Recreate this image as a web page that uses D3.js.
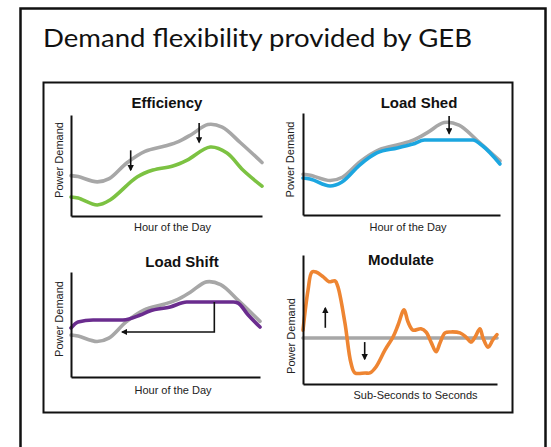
<!DOCTYPE html>
<html>
<head>
<meta charset="utf-8">
<script src="https://cdn.jsdelivr.net/npm/d3@7"></script>
<style>
  body { margin: 0; background: #fff; }
  svg { display: block; }
</style>
</head>
<body>
<svg id="chart"></svg>
<script>
(function() {

    // Data
    const chartTitle = 'Demand flexibility provided by GEB';

    // baseline load profile (gray), hour of day vs. relative power demand
    const baseHours = [0, 0.9, 3.3, 4.8, 7, 9.3, 11.8, 13.5, 15.2, 17.2, 19, 21.3, 24];
    const baseValues = [40, 39, 33.8, 37, 52.5, 64, 69.3, 73.7, 81, 90.6, 88, 72.5, 53];

    // Efficiency (green)
    const effHours = [0, 0.9, 3.3, 4.9, 8.3, 10.3, 12.8, 14.6, 17.5, 19.6, 21.6, 24];
    const effValues = [18.8, 17.8, 10.9, 15.8, 38.6, 45.5, 49.5, 55.4, 68.3, 62.4, 45.5, 29.5];
    const effArrows = [[7.5, 65, 45.5], [16.1, 92, 73]]; // hour, from, to

    // Load Shed (blue)
    const shedHours = [0, 0.85, 3.3, 4.75, 6.9, 9.0, 11.5, 13.4, 14.8, 17.1, 20.7, 21.9, 24];
    const shedValues = [36.3, 35.3, 28.4, 32.4, 49, 60.8, 65.7, 69.6, 73.5, 73.5, 73.5, 67.6, 50];
    const shedArrows = [[17.8, 97, 80]];

    // Load Shift (purple)
    const shiftHours = [0, 0.9, 2.8, 6.6, 8.8, 10.0, 12.6, 14.7, 18.0, 20.6, 21.2, 22.5, 24];
    const shiftValues = [46.7, 52.4, 54.3, 54.3, 59, 62.9, 66.7, 71.4, 71.4, 71.4, 70.5, 59, 47.6];
    const shiftArrowHours = [18.2, 18.2, 6.5];
    const shiftArrowValues = [71.4, 42.9, 42.9];

    // Modulate (orange), sub-seconds to seconds vs. deviation from baseline
    const modTime = [0, 0.26, 0.46, 0.67, 1.03, 1.34, 1.65, 1.8, 2.16, 2.47, 2.68, 3.2, 3.45, 3.76,
        4.23, 4.64, 4.9, 5.21, 5.41, 5.67, 6.08, 6.34, 6.6, 6.86, 7.06, 7.32, 7.63, 8.09, 8.4,
        8.66, 8.87, 9.12, 9.28, 9.54, 9.79, 10];
    const modValues = [0.17, 1.04, 1.43, 1.43, 1.33, 1.22, 1.24, 1.11, 0.33, -0.54, -0.76, -0.76,
        -0.76, -0.63, -0.26, 0.02, 0.28, 0.61, 0.35, 0.17, 0.2, 0.13, -0.09, -0.3, -0.11, 0.11,
        0.13, 0.11, 0.02, -0.09, 0.02, 0.2, 0, -0.2, -0.04, 0.07];
    const modBaseline = 0;
    const modArrows = [[1.15, 0.22, 0.65], [3.18, -0.09, -0.46]];

    const w = 551;
    const h = 447;

    const svg = d3.select('#chart')
        .attr('width', w)
        .attr('height', h);

    // arrowhead
    svg.append('defs').append('marker')
        .attr('id', 'head')
        .attr('viewBox', '0 0 10 10')
        .attr('refX', 8)
        .attr('refY', 5)
        .attr('markerWidth', 4)
        .attr('markerHeight', 4)
        .attr('markerUnits', 'strokeWidth')
        .attr('orient', 'auto')
        .append('path')
        .attr('d', 'M0,0 L10,5 L0,10 z')
        .attr('fill', '#111');

    // Frames
    svg.append('rect')
        .attr('x', 20.5).attr('y', 8.5)
        .attr('width', 525).attr('height', 470)
        .attr('fill', 'none')
        .attr('stroke', '#111')
        .attr('stroke-width', 2.5);

    svg.append('text')
        .attr('x', 43)
        .attr('y', 47)
        .attr('textLength', 429)
        .attr('lengthAdjust', 'spacingAndGlyphs')
        .style('font-family', 'Lato, "Open Sans", sans-serif')
        .style('font-size', '25px')
        .attr('fill', '#111')
        .text(chartTitle);

    svg.append('rect')
        .attr('x', 43.5).attr('y', 82.5)
        .attr('width', 469).attr('height', 330)
        .attr('fill', 'none')
        .attr('stroke', '#111')
        .attr('stroke-width', 2);

    const panels = [
        {
            title: 'Efficiency', xLabel: 'Hour of the Day',
            box: { l: 71, r: 262, t: 115, b: 216 },
            titleX: 167, titleY: 108, xLabelX: 172.5, xLabelY: 231, yLabelX: 63, yLabelY: 160,
            xDomain: [0, 24], yDomain: [0, 100],
            lines: [
                { xs: baseHours, ys: baseValues, color: '#a7a7a7' },
                { xs: effHours, ys: effValues, color: '#7cc242' }
            ],
            arrows: effArrows
        },
        {
            title: 'Load Shed', xLabel: 'Hour of the Day',
            box: { l: 303, r: 500, t: 113, b: 215 },
            titleX: 419, titleY: 108, xLabelX: 408, xLabelY: 231, yLabelX: 294, yLabelY: 159.5,
            xDomain: [0, 24], yDomain: [0, 100],
            lines: [
                { xs: baseHours, ys: baseValues, color: '#a7a7a7' },
                { xs: shedHours, ys: shedValues, color: '#1ca6e0', curve: d3.curveMonotoneX }
            ],
            arrows: shedArrows
        },
        {
            title: 'Load Shift', xLabel: 'Hour of the Day',
            box: { l: 71, r: 260, t: 272, b: 377 },
            titleX: 182, titleY: 267, xLabelX: 173, xLabelY: 394, yLabelX: 63, yLabelY: 319,
            xDomain: [0, 24], yDomain: [0, 100],
            lines: [
                { xs: baseHours, ys: baseValues, color: '#a7a7a7' },
                { xs: shiftHours, ys: shiftValues, color: '#6a2c8e', curve: d3.curveMonotoneX }
            ],
            arrows: [],
            elbow: { xs: shiftArrowHours, ys: shiftArrowValues }
        },
        {
            title: 'Modulate', xLabel: 'Sub-Seconds to Seconds',
            box: { l: 303, r: 497, t: 255, b: 384 },
            titleX: 401, titleY: 265, xLabelX: 415.5, xLabelY: 399, yLabelX: 295, yLabelY: 336,
            xDomain: [0, 10], yDomain: [-1, 1.8],
            lines: [
                { xs: [0, 10], ys: [modBaseline, modBaseline], color: '#a7a7a7', curve: d3.curveLinear },
                { xs: modTime, ys: modValues, color: '#ee8532' }
            ],
            arrows: modArrows
        }
    ];

    panels.forEach(p => {

        const scaleX = d3.scaleLinear().domain(p.xDomain).range([p.box.l, p.box.r]);
        const scaleY = d3.scaleLinear().domain(p.yDomain).range([p.box.b, p.box.t]);
        const g = svg.append('g');

        // Lines
        p.lines.forEach(ln => {
            const line = d3.line()
                .x(d => scaleX(d[0]))
                .y(d => scaleY(d[1]))
                .curve(ln.curve || d3.curveCatmullRom.alpha(0.5));
            g.append('path')
                .datum(d3.zip(ln.xs, ln.ys))
                .attr('d', line)
                .attr('fill', 'none')
                .attr('stroke', ln.color)
                .attr('stroke-width', 3.6)
                .attr('stroke-linejoin', 'round')
                .attr('stroke-linecap', 'round');
        });

        // Arrows
        g.selectAll('line.arrow')
            .data(p.arrows)
            .enter()
            .append('line')
            .attr('class', 'arrow')
            .attr('x1', d => scaleX(d[0]))
            .attr('x2', d => scaleX(d[0]))
            .attr('y1', d => scaleY(d[1]))
            .attr('y2', d => scaleY(d[2]))
            .attr('stroke', '#111')
            .attr('stroke-width', 1.6)
            .attr('marker-end', 'url(#head)');

        if (p.elbow) {
            const elbowLine = d3.line()
                .x(d => scaleX(d[0]))
                .y(d => scaleY(d[1]));
            g.append('path')
                .datum(d3.zip(p.elbow.xs, p.elbow.ys))
                .attr('d', elbowLine)
                .attr('fill', 'none')
                .attr('stroke', '#111')
                .attr('stroke-width', 1.6)
                .attr('marker-end', 'url(#head)');
        }

        // Axes (bare lines, no ticks)
        const xAxis = d3.axisBottom(scaleX).tickValues([]).tickSizeOuter(0);
        const yAxis = d3.axisLeft(scaleY).tickValues([]).tickSizeOuter(0);

        g.append('g')
            .attr('transform', `translate(0, ${p.box.b})`)
            .call(xAxis)
            .select('.domain')
            .attr('stroke', '#111')
            .attr('stroke-width', 2);

        g.append('g')
            .attr('transform', `translate(${p.box.l}, 0)`)
            .call(yAxis)
            .select('.domain')
            .attr('stroke', '#111')
            .attr('stroke-width', 2);

        // Texts
        g.append('text')
            .attr('x', p.titleX)
            .attr('y', p.titleY)
            .attr('text-anchor', 'middle')
            .style('font-family', '"Liberation Sans", Arial, sans-serif')
            .style('font-weight', 'bold')
            .style('font-size', '15px')
            .attr('fill', '#111')
            .text(p.title);

        g.append('text')
            .attr('x', p.xLabelX)
            .attr('y', p.xLabelY)
            .attr('text-anchor', 'middle')
            .style('font-family', '"Liberation Sans", Arial, sans-serif')
            .style('font-size', '11px')
            .attr('fill', '#222')
            .text(p.xLabel);

        g.append('text')
            .attr('transform', `translate(${p.yLabelX}, ${p.yLabelY}) rotate(-90)`)
            .attr('text-anchor', 'middle')
            .style('font-family', '"Liberation Sans", Arial, sans-serif')
            .style('font-size', '11px')
            .attr('fill', '#222')
            .text('Power Demand');

    });

})();
</script>
</body>
</html>
